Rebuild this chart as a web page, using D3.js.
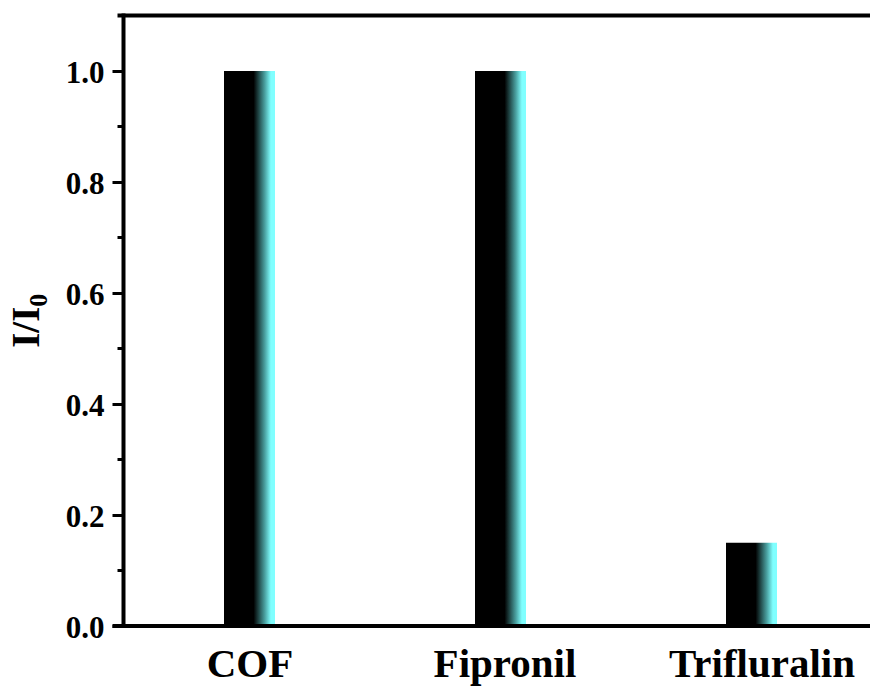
<!DOCTYPE html>
<html>
<head>
<meta charset="utf-8">
<script src="https://cdn.jsdelivr.net/npm/d3@7"></script>
<style>
  html, body { margin: 0; padding: 0; background: #fff; }
  svg { display: block; }
  text { font-family: "Liberation Serif", "Times New Roman", serif; font-weight: bold; fill: #000; }
</style>
</head>
<body>
<svg id="chart" width="870" height="686"></svg>
<script>
// ---- data ----
const categories = ["COF", "Fipronil", "Trifluralin"];
const values = [1.0, 1.0, 0.15];
const yTicks = [0.0, 0.2, 0.4, 0.6, 0.8, 1.0];
const yMinorTicks = [0.1, 0.3, 0.5, 0.7, 0.9];
const yTitle = "I/I";
const yTitleSub = "0";

(function () {
// ---- layout ----
const mLeft = 123.5, mTop = 15.5, mBottom = 626, mRight = 872;
const svg = d3.select("#chart");

const y = d3.scaleLinear().domain([0, 1.1]).range([mBottom, mTop]);
const x = d3.scalePoint().domain(categories).range([249.5, 751.5]);
const barW = 51;
const labelShift = [0, 4, 10];

// gradient
const defs = svg.append("defs");
const grad = defs.append("linearGradient").attr("id", "barGrad")
  .attr("x1", "0%").attr("x2", "100%").attr("y1", "0%").attr("y2", "0%");
grad.append("stop").attr("offset", "0%").attr("stop-color", "#000");
grad.append("stop").attr("offset", "58%").attr("stop-color", "#000");
grad.append("stop").attr("offset", "80%").attr("stop-color", "#4aa0a0");
grad.append("stop").attr("offset", "92%").attr("stop-color", "#80ffff");
grad.append("stop").attr("offset", "100%").attr("stop-color", "#80ffff");

// bars
svg.append("g").selectAll("rect").data(categories).join("rect")
  .attr("x", d => x(d) - barW / 2)
  .attr("width", barW)
  .attr("y", (d, i) => y(values[i]))
  .attr("height", (d, i) => y(0) - y(values[i]))
  .attr("fill", "url(#barGrad)");

// top frame line
svg.append("line")
  .attr("x1", mLeft - 6).attr("x2", mRight)
  .attr("y1", mTop).attr("y2", mTop)
  .attr("stroke", "#000").attr("stroke-width", 4);

// y axis
const yAxis = d3.axisLeft(y).tickValues(yTicks).tickFormat(d3.format(".1f")).tickSize(11).tickPadding(8);
const gy = svg.append("g").attr("transform", `translate(${mLeft},0)`).call(yAxis);
gy.select(".domain").remove();
gy.selectAll(".tick line").attr("stroke", "#000").attr("stroke-width", 3);
gy.selectAll(".tick text").attr("font-size", 31).attr("dy", "0.36em")
  .style("font-family", '"Liberation Serif", serif').style("font-weight", "bold");
gy.append("line").attr("x1", 0).attr("x2", 0).attr("y1", mTop - 2).attr("y2", mBottom + 2)
  .attr("stroke", "#000").attr("stroke-width", 4);

// minor ticks
svg.append("g").selectAll("line").data(yMinorTicks).join("line")
  .attr("x1", mLeft - 6).attr("x2", mLeft)
  .attr("y1", d => y(d)).attr("y2", d => y(d))
  .attr("stroke", "#000").attr("stroke-width", 3);

// x axis
const xAxis = d3.axisBottom(x).tickSize(0).tickPadding(0);
const gx = svg.append("g").attr("transform", `translate(0,${mBottom})`).call(xAxis);
gx.select(".domain").remove();
gx.selectAll(".tick text").attr("font-size", 41).attr("y", 51).attr("dy", 0)
  .attr("dx", (d, i) => labelShift[i])
  .style("font-family", '"Liberation Serif", serif').style("font-weight", "bold");
svg.append("line").attr("x1", mLeft - 11).attr("x2", mRight).attr("y1", mBottom).attr("y2", mBottom)
  .attr("stroke", "#000").attr("stroke-width", 4);

// y title
const t = svg.append("text")
  .attr("transform", `translate(39,${(mTop + mBottom) / 2}) rotate(-90)`)
  .attr("text-anchor", "middle")
  .attr("font-size", 39);
t.append("tspan").text(yTitle);
t.append("tspan").attr("font-size", 26).attr("dy", 8).text(yTitleSub);
})();
</script>
</body>
</html>
